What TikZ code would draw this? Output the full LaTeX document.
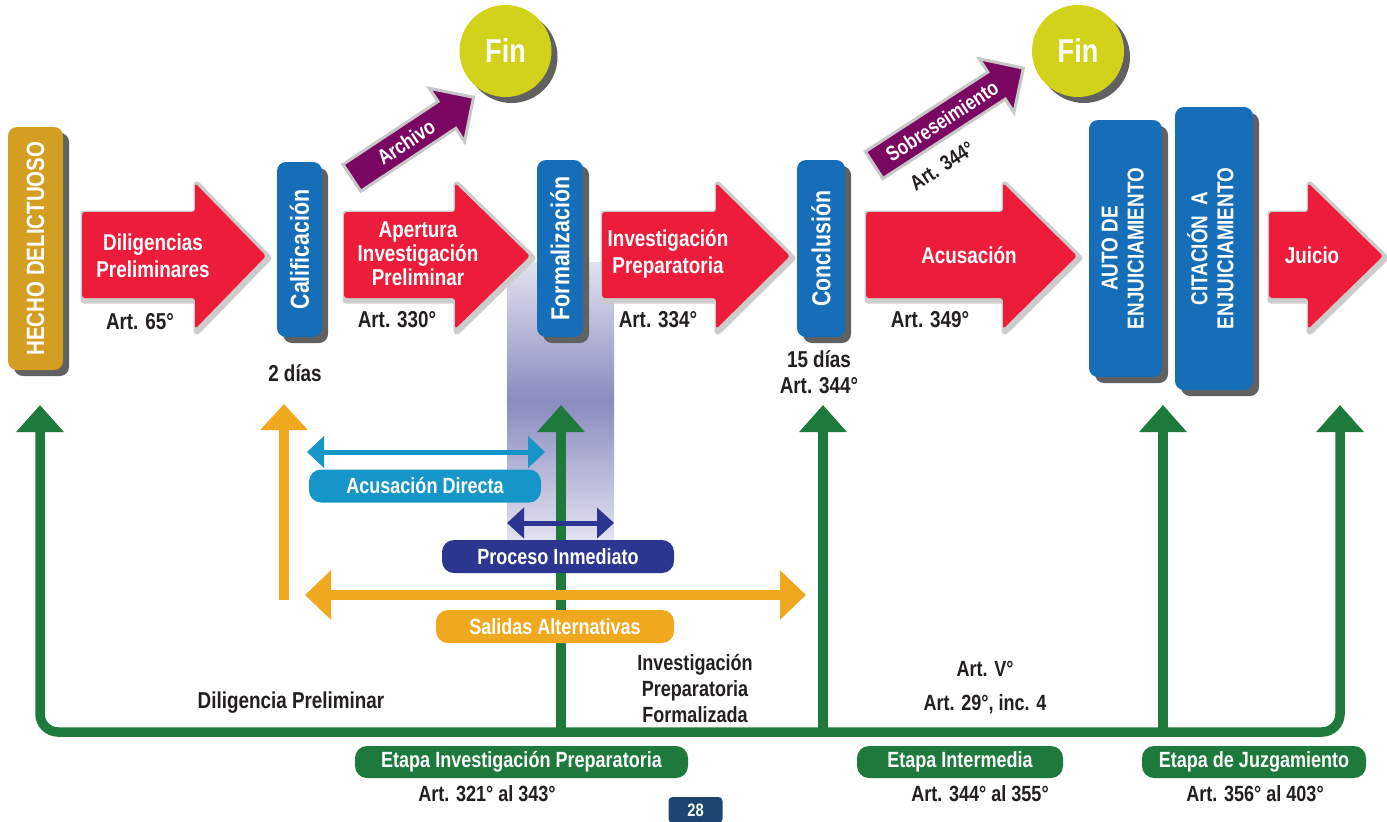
\documentclass[tikz,border=0pt]{standalone}
\usepackage{fontspec}
\setmainfont{Liberation Sans}[FakeStretch=0.82]
\usetikzlibrary{arrows.meta,shadows,shapes.arrows}

\definecolor{flowred}{RGB}{236,28,58}
\definecolor{stepblue}{RGB}{22,110,184}
\definecolor{factgold}{RGB}{212,158,34}
\definecolor{endlime}{RGB}{210,210,26}
\definecolor{exitpurple}{RGB}{122,8,98}
\definecolor{railgreen}{RGB}{30,122,60}
\definecolor{directcyan}{RGB}{22,150,200}
\definecolor{quicknavy}{RGB}{44,53,143}
\definecolor{altorange}{RGB}{240,168,30}
\definecolor{inkgray}{RGB}{35,31,32}
\definecolor{pagenavy}{RGB}{28,70,112}
\definecolor{lavdark}{RGB}{138,139,192}
\definecolor{lavlight}{RGB}{226,226,240}

\tikzset{
  boxshadow/.style={drop shadow={shadow xshift=6pt, shadow yshift=-6pt, opacity=1, fill=black!62}},
  stepbox/.style={rectangle, rounded corners=9pt, fill=stepblue, text=white, inner sep=0pt, boxshadow,
    font=\bfseries\fontsize{26}{29}\selectfont},
  endcircle/.style={circle, fill=endlime, text=white, minimum size=92pt, inner sep=0pt, boxshadow,
    font=\bfseries\fontsize{33}{36}\selectfont},
  arrowrim/.style={fill=black!20, draw=black!20, line width=7pt, line join=round, xshift=2pt, yshift=-2pt},
  arrowtext/.style={text=white, align=center, font=\bfseries\fontsize{23}{27}\selectfont},
  artlabel/.style={text=inkgray, align=center, font=\bfseries\fontsize{23}{26}\selectfont},
  tagbox/.style={rectangle, rounded corners=12pt, text=white, inner sep=0pt, minimum height=33pt,
    font=\bfseries\fontsize{22}{24}\selectfont},
  exitarrow/.style={single arrow, fill=exitpurple, draw=black!22, line width=3pt, text=white,
    inner xsep=3pt, inner ysep=6pt, minimum width=64pt, single arrow head extend=15pt,
    font=\bfseries\fontsize{21}{22}\selectfont},
  railhead/.tip={Triangle[width=46pt,length=27pt]},
  rail/.style={draw=railgreen, line width=9.5pt, -railhead},
  directline/.style={draw=directcyan, line width=5pt, {Triangle[width=31pt,length=17pt]}-{Triangle[width=31pt,length=17pt]}},
  quickline/.style={draw=quicknavy, line width=5pt, {Triangle[width=30pt,length=17pt]}-{Triangle[width=30pt,length=17pt]}},
  altline/.style={draw=altorange, line width=9.5pt, {Triangle[width=48pt,length=26pt]}-{Triangle[width=48pt,length=26pt]}},
}

% big red step arrow: body left, head start, tip
\newcommand{\bigarrow}[3]{%
  \draw[arrowrim] (#1,212) -- (#2,212) -- (#2,183) -- (#3,256) -- (#2,329) -- (#2,298) -- (#1,298) -- cycle;
  \fill[flowred, rounded corners=3pt] (#1,212) -- (#2,212) -- (#2,183) -- (#3,256) -- (#2,329) -- (#2,298) -- (#1,298) -- cycle;
}

\begin{document}
\begin{tikzpicture}[x=1pt,y=-1pt]
\useasboundingbox (0,0) rectangle (1387,822);

% band behind Formalizacion
\shade[top color=lavlight, bottom color=lavlight, middle color=lavdark] (507,262) rectangle (614,540);

% step arrows
\bigarrow{82}{195}{266}
\bigarrow{344}{455}{530}
\bigarrow{602}{716}{790}
\bigarrow{866}{1003}{1077}
\bigarrow{1269}{1308}{1383}

\node[arrowtext] (dilig) at (153,256) {Diligencias\\Preliminares};
\node[arrowtext, font=\bfseries\fontsize{23}{24}\selectfont] (apert) at (418,254) {Apertura\\Investigación\\Preliminar};
\node[arrowtext] (invprep) at (668,254) {Investigación\\Preparatoria};
\node[arrowtext] (acus) at (969,255) {Acusación};
\node[arrowtext] (juicio) at (1312,255) {Juicio};

\node[artlabel] (art65) at (140,322) {Art. 65°};
\node[artlabel] (art330) at (397,320) {Art. 330°};
\node[artlabel] (art334) at (658,320) {Art. 334°};
\node[artlabel] (art349) at (930,320) {Art. 349°};
\node[artlabel] (dias2) at (295,373) {2 días};
\node[artlabel] (dias15) at (819,372) {15 días\\Art. 344°};

% boxes
\node[stepbox, fill=factgold, minimum width=55pt, minimum height=243pt,
  font=\bfseries\fontsize{25}{28}\selectfont] (hecho) at (35.5,248.5) {\rotatebox{90}{HECHO DELICTUOSO}};
\node[stepbox, minimum width=45pt, minimum height=175pt] (calif) at (299.5,249.5) {\rotatebox{90}{Calificación}};
\node[stepbox, minimum width=46pt, minimum height=177pt] (formal) at (560,248.5) {\rotatebox{90}{Formalización}};
\node[stepbox, minimum width=48pt, minimum height=177pt] (concl) at (821,248.5) {\rotatebox{90}{Conclusión}};
\node[stepbox, minimum width=73pt, minimum height=257pt, font=\bfseries\fontsize{23}{26}\selectfont] (auto) at (1125.5,248.5)
  {\rotatebox{90}{\begin{tabular}{@{}c@{}}AUTO DE\\ENJUICIAMIENTO\end{tabular}}};
\node[stepbox, minimum width=78pt, minimum height=283pt, font=\bfseries\fontsize{23}{26}\selectfont] (citac) at (1214,248.5)
  {\rotatebox{90}{\begin{tabular}{@{}c@{}}CITACIÓN~~A\\ENJUICIAMIENTO\end{tabular}}};

% exits
\node[endcircle] (fin1) at (505.5,51) {Fin};
\node[endcircle] (fin2) at (1078,51) {Fin};
\node[exitarrow, rotate=33.5, minimum height=146pt] (archivo) at (406,142) {Archivo};
\node[exitarrow, rotate=33, minimum height=178pt] (sobre) at (942,121) {Sobreseimiento};
\node[artlabel, rotate=33, font=\bfseries\fontsize{21}{24}\selectfont] (art344b) at (942,166) {Art. 344°};

% green rail
\coordinate (tipH) at (40,405);
\coordinate (tipF) at (561,405);
\coordinate (tipC) at (823,405);
\coordinate (tipA) at (1163,405);
\coordinate (tipJ) at (1340,405);
\coordinate (railF) at (561,732);
\coordinate (railC) at (823,732);
\coordinate (railA) at (1163,732);
\draw[rail, railhead-railhead, rounded corners=18pt] (tipH) -- (40,732) -- (1340,732) -- (tipJ);
\draw[rail] (railF) -- (tipF);
\draw[rail] (railC) -- (tipC);
\draw[rail] (railA) -- (tipA);

% alternatives
\coordinate (altUp0) at (284,600);
\coordinate (altUp1) at (284,404);
\draw[draw=altorange, line width=9.5pt, -{Triangle[width=46pt,length=26pt]}] (altUp0) -- (altUp1);
\coordinate (dirL) at (307,452);
\coordinate (dirR) at (545,452);
\draw[directline] (dirL) -- (dirR);
\coordinate (quickL) at (507,523);
\coordinate (quickR) at (614,523);
\draw[quickline] (quickL) -- (quickR);
\coordinate (altL) at (305,595);
\coordinate (altR) at (806,595);
\draw[altline] (altL) -- (altR);

\node[tagbox, fill=directcyan, minimum width=232pt] (dirtag) at (425,486) {Acusación Directa};
\node[tagbox, fill=quicknavy, minimum width=232pt] (quicktag) at (558,556.5) {Proceso Inmediato};
\node[tagbox, fill=altorange, minimum width=238pt] (alttag) at (555,626.5) {Salidas Alternativas};

% bottom texts
\node[artlabel] (dilpre) at (291,703) {Diligencia Preliminar};
\node[artlabel, font=\bfseries\fontsize{22}{26}\selectfont] (ipf) at (695,689) {Investigación\\Preparatoria\\Formalizada};
\node[artlabel, font=\bfseries\fontsize{22}{34}\selectfont] (artv) at (985,688) {Art. V°\\Art. 29°, inc. 4};

\node[tagbox, fill=railgreen, minimum width=333pt, minimum height=32pt] (etapa1) at (521.5,762) {Etapa Investigación Preparatoria};
\node[tagbox, fill=railgreen, minimum width=206pt, minimum height=32pt] (etapa2) at (960,762) {Etapa Intermedia};
\node[tagbox, fill=railgreen, minimum width=224pt, minimum height=32pt] (etapa3) at (1254,762) {Etapa de Juzgamiento};
\node[artlabel, font=\bfseries\fontsize{22}{24}\selectfont] (art321) at (487,794) {Art. 321° al 343°};
\node[artlabel, font=\bfseries\fontsize{22}{24}\selectfont] (art344c) at (980,794) {Art. 344° al 355°};
\node[artlabel, font=\bfseries\fontsize{22}{24}\selectfont] (art356) at (1255,794) {Art. 356° al 403°};

\node[rectangle, rounded corners=4pt, fill=pagenavy, text=white, minimum width=54pt, minimum height=26pt,
  inner sep=0pt, font=\bfseries\fontsize{18}{20}\selectfont] (page) at (695.5,810) {28};
\end{tikzpicture}
\end{document}
